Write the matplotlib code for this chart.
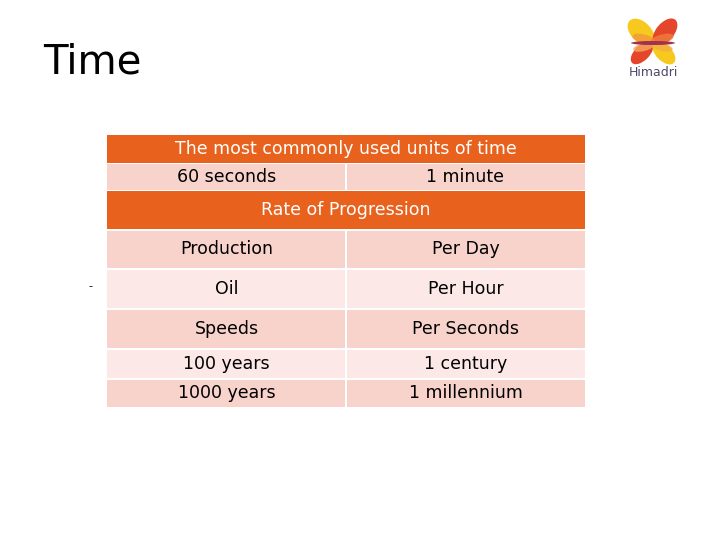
import matplotlib.pyplot as plt
from matplotlib.patches import Rectangle, Ellipse

# Table content
header_top = 'The most commonly used units of time'
header_mid = 'Rate of Progression'
left_col = ['60 seconds', 'Production', 'Oil', 'Speeds', '100 years', '1000 years']
right_col = ['1 minute', 'Per Day', 'Per Hour', 'Per Seconds', '1 century', '1 millennium']

ORANGE = '#E8621D'
PINK = '#F8D3CC'
LIGHT = '#FCE8E6'

fig = plt.figure(figsize=(7.2, 5.4), dpi=100)
ax = fig.add_axes([0, 0, 1, 1])
ax.set_xlim(0, 720)
ax.set_ylim(540, 0)
ax.axis('off')

# Title
ax.text(43, 63, 'Time', fontsize=29, va='center', ha='left', color='black')

# Table layout: (top, bottom) for each row
x0, xm, x1 = 107, 346, 585
header_rows = [(135, 163, header_top), (191, 229, header_mid)]
body_rows = [(164, 190), (231, 268), (270, 308), (310, 348), (350, 378), (380, 407)]
body_fill = [PINK, PINK, LIGHT, PINK, LIGHT, PINK]

for (top, bot, txt) in header_rows:
    ax.add_patch(Rectangle((x0, top), x1 - x0, bot - top, color=ORANGE, lw=0))
    ax.text((x0 + x1) / 2, (top + bot) / 2, txt, color='white', fontsize=12.5,
            ha='center', va='center')

for i, (top, bot) in enumerate(body_rows):
    ax.add_patch(Rectangle((x0, top), xm - x0 - 1, bot - top, color=body_fill[i], lw=0))
    ax.add_patch(Rectangle((xm + 1, top), x1 - xm - 1, bot - top, color=body_fill[i], lw=0))
    ax.text((x0 + xm) / 2, (top + bot) / 2, left_col[i], fontsize=12.5,
            ha='center', va='center', color='black')
    ax.text((xm + x1) / 2, (top + bot) / 2, right_col[i], fontsize=12.5,
            ha='center', va='center', color='black')

# small stray dash
ax.text(90, 286, '-', fontsize=8, ha='center', va='center', color='black')

# Logo (butterfly)
cx, cy = 653, 43
ax.add_patch(Ellipse((cx - 12, cy - 11), 32, 20, angle=45, color='#F7C81E', lw=0))
ax.add_patch(Ellipse((cx + 12, cy - 11), 32, 18, angle=-50, color='#E5462B', lw=0))
ax.add_patch(Ellipse((cx - 9, cy - 4), 24, 9, angle=15, color='#F39A3A', lw=0, alpha=0.85))
ax.add_patch(Ellipse((cx + 9, cy - 4), 24, 9, angle=-15, color='#EF7A3A', lw=0, alpha=0.85))
ax.add_patch(Ellipse((cx - 11, cy + 10), 28, 15, angle=-45, color='#E5462B', lw=0))
ax.add_patch(Ellipse((cx + 11, cy + 10), 28, 16, angle=45, color='#F7C81E', lw=0))
ax.add_patch(Ellipse((cx - 9, cy + 4), 22, 8, angle=-15, color='#F5A55A', lw=0, alpha=0.85))
ax.add_patch(Ellipse((cx + 9, cy + 4), 22, 8, angle=15, color='#F5B040', lw=0, alpha=0.85))
ax.add_patch(Ellipse((cx, cy), 44, 4, color='#A2304F', lw=0))
ax.text(cx, 72, 'Himadri', fontsize=9, ha='center', va='center', color='#4F4A6B')

fig.savefig('out.png', dpi=100)
